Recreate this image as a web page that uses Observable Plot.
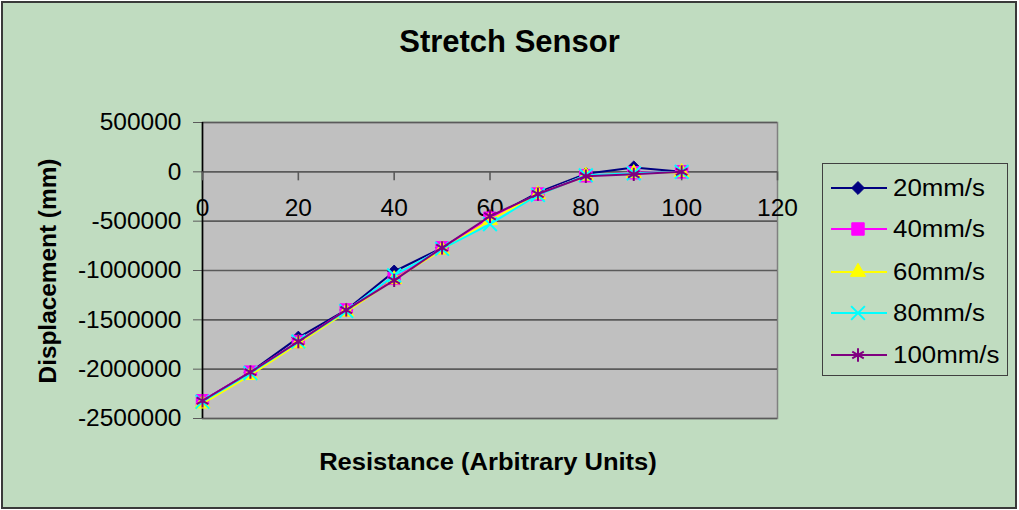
<!DOCTYPE html>
<html>
<head>
<meta charset="utf-8">
<script src="https://cdn.jsdelivr.net/npm/d3@7"></script>
<script src="https://cdn.jsdelivr.net/npm/@observablehq/plot@0.6"></script>
<style>
html, body { margin: 0; padding: 0; background: #ffffff; }
#chart { position: relative; width: 1019px; height: 510px; overflow: hidden; font-family: "Liberation Sans", Arial, sans-serif; color: #000; }
#bg { position: absolute; left: 1px; top: 1px; width: 1012px; height: 504px; background: #C0DCC0; border: 2px solid #3a3a3a; }
#title { position: absolute; left: 0; width: 1019px; top: 24px; height: 36px; line-height: 36px; text-align: center; font-size: 31px; font-weight: bold; }
#xtitle { position: absolute; left: 188px; width: 600px; top: 448px; height: 28px; line-height: 28px; text-align: center; font-size: 23px; font-weight: bold; transform: scaleX(1.11); transform-origin: 300px 14px; }
#ytitle { position: absolute; left: -102px; top: 256px; width: 300px; height: 30px; line-height: 30px; text-align: center; font-size: 23px; font-weight: bold; transform: rotate(-90deg) scaleX(1.06); transform-origin: 150px 15px; }
#plot { position: absolute; left: 0; top: 0; }
#legendBox { position: absolute; left: 822px; top: 163px; width: 184px; height: 211px; border: 1.5px solid #404040; }
.lgsym { position: absolute; }
.lgtxt { position: absolute; font-size: 23.5px; line-height: 28px; white-space: nowrap; transform: scaleX(1.1); transform-origin: 0 14px; }
</style>
</head>
<body>
<div id="chart">
  <div id="bg"></div>
  <div id="plot"></div>
  <div id="title">Stretch Sensor</div>
  <div id="xtitle">Resistance (Arbitrary Units)</div>
  <div id="ytitle">Displacement (mm)</div>
  <div id="legendBox"></div>
</div>
<script>
// ---- data ----
const resistance = [0, 10, 20, 30, 40, 50, 60, 70, 80, 90, 100];
const speed20  = [-2320000, -2030000, -1680000, -1400000, -1010000, -770000, -470000, -210000, -20000, 45000, 0];
const speed40  = [-2320000, -2030000, -1720000, -1400000, -1080000, -770000, -470000, -225000, -40000, -10000, 0];
const speed60  = [-2350000, -2060000, -1740000, -1420000, -1090000, -790000, -490000, -230000, -40000, -15000, -5000];
const speed80  = [-2330000, -2040000, -1720000, -1410000, -1050000, -780000, -530000, -235000, -35000, -15000, 0];
const speed100 = [-2320000, -2030000, -1720000, -1400000, -1100000, -770000, -450000, -225000, -45000, -25000, 0];
const seriesNames = ["20mm/s", "40mm/s", "60mm/s", "80mm/s", "100mm/s"];
const seriesValues = [speed20, speed40, speed60, speed80, speed100];
const seriesColors = ["#000080", "#FF00FF", "#FFFF00", "#00FFFF", "#800080"];
const seriesSymbols = ["diamond2", "square", "triangle", "times", "asterisk"];
const seriesR = [5.8, 7, 5.6, 6.3, 6.3];
const seriesFilled = [true, true, true, false, false];
const xTicks = [0, 20, 40, 60, 80, 100, 120];
const yTicks = [500000, 0, -500000, -1000000, -1500000, -2000000, -2500000];

const rows = [];
seriesNames.forEach((name, s) => {
  resistance.forEach((r, i) => rows.push({series: name, x: r, y: seriesValues[s][i]}));
});

const marks = [
  Plot.frame({fill: "#C0C0C0", stroke: "#808080", strokeWidth: 1.5}),
  Plot.gridY(yTicks, {stroke: "#5a5a5a", strokeOpacity: 1, strokeWidth: 1.6}),
  Plot.axisY({ticks: yTicks, tickFormat: d => String(d), tickSize: 9, tickPadding: 12, stroke: "#5a5a5a", fill: "black", fontSize: 24.5, label: null}),
  Plot.ruleX([0], {stroke: "black", strokeWidth: 1.6}),
  Plot.ruleX(xTicks, {x: d => d, y1: () => 0, y2: () => 0, insetBottom: -9, stroke: "#5a5a5a", strokeWidth: 1.6}),
  Plot.text(xTicks, {x: d => d, y: () => 0, dy: 36, text: d => String(d), fontSize: 24.5, fill: "black"})
];
seriesNames.forEach((name, s) => {
  const d = rows.filter(r => r.series === name);
  marks.push(Plot.line(d, {x: "x", y: "y", stroke: seriesColors[s], strokeWidth: 2}));
  marks.push(Plot.dot(d, {
    x: "x", y: "y", symbol: () => seriesSymbols[s], r: seriesR[s],
    fill: seriesFilled[s] ? seriesColors[s] : "none",
    stroke: seriesColors[s], strokeWidth: seriesFilled[s] ? 1 : 2
  }));
});

const chart = Plot.plot({
  width: 1019,
  height: 510,
  marginLeft: 202,
  marginRight: 242,
  marginTop: 122,
  marginBottom: 92,
  x: {domain: [0, 120], axis: null},
  y: {domain: [-2500000, 500000]},
  symbol: {type: "identity"},
  style: {background: "transparent", fontFamily: "Liberation Sans, Arial, sans-serif", fontSize: "24px", overflow: "visible"},
  marks
});
document.getElementById("plot").appendChild(chart);

// ---- legend ----
const chartDiv = d3.select("#chart");
const symMap = {diamond2: d3.symbolDiamond2, square: d3.symbolSquare, triangle: d3.symbolTriangle, times: d3.symbolTimes, asterisk: d3.symbolAsterisk};
const legendY = [187.7, 229.3, 271.7, 313.3, 355];
seriesNames.forEach((name, s) => {
  const cy = legendY[s];
  const svg = chartDiv.append("svg").attr("class", "lgsym")
    .style("left", "826px").style("top", (cy - 12) + "px")
    .attr("width", 66).attr("height", 24);
  svg.append("line").attr("x1", 5).attr("x2", 61).attr("y1", 12).attr("y2", 12)
    .attr("stroke", seriesColors[s]).attr("stroke-width", 2);
  svg.append("path")
    .attr("transform", "translate(32,12)")
    .attr("d", d3.symbol(symMap[seriesSymbols[s]], Math.PI * seriesR[s] * seriesR[s])())
    .attr("fill", seriesFilled[s] ? seriesColors[s] : "none")
    .attr("stroke", seriesColors[s]).attr("stroke-width", seriesFilled[s] ? 1 : 2);
  chartDiv.append("div").attr("class", "lgtxt")
    .style("left", "893px").style("top", (cy - 14) + "px")
    .text(name);
});
</script>
</body>
</html>
